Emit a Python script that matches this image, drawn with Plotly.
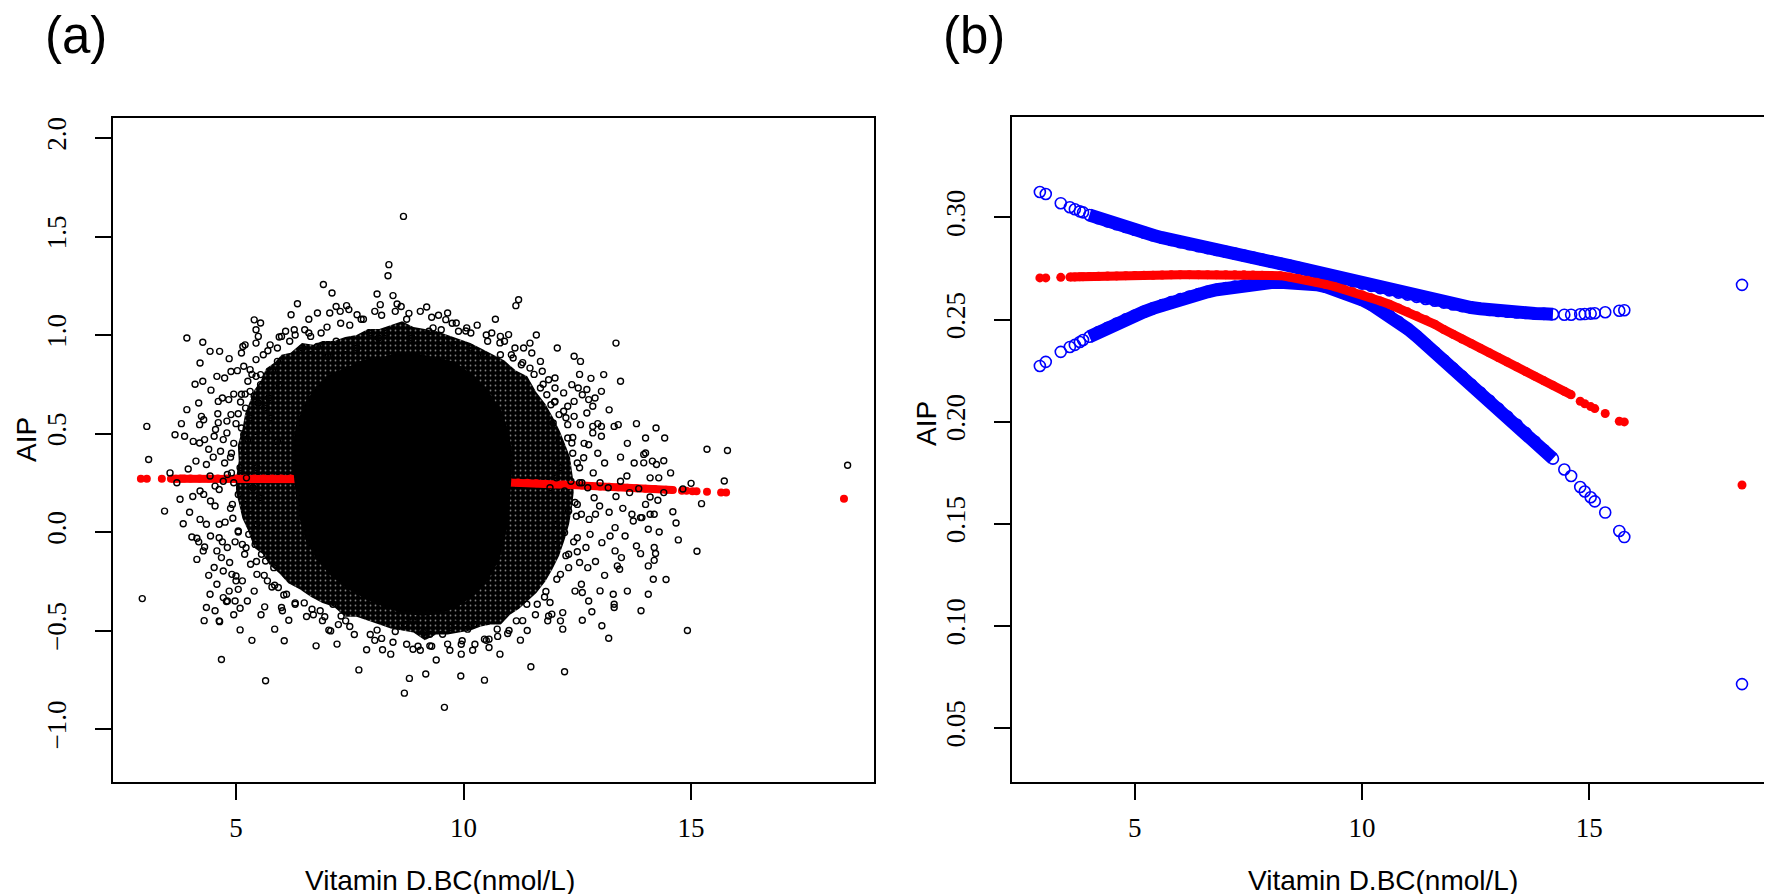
import plotly.graph_objects as go

# fitted curve (smooth fit of AIP on vitamin D)
fit_x = [2.91, 3.04, 3.37, 3.57, 3.68, 3.79, 3.86,
         4.0, 4.2, 4.4, 4.6, 4.8, 5.0, 5.2, 5.4, 5.6, 5.8, 6.0, 6.2, 6.4, 6.6, 6.8,
         7.0, 7.2, 7.4, 7.6, 7.8, 8.0, 8.2, 8.4, 8.6, 8.8, 9.0, 9.2, 9.4, 9.6, 9.8,
         10.0, 10.2, 10.4, 10.6, 10.8, 11.0, 11.2, 11.4, 11.6, 11.8, 12.0, 12.2, 12.4,
         12.6, 12.8, 13.0, 13.2, 13.4, 13.6, 13.8, 14.0, 14.2,
         14.45, 14.6, 14.8, 14.9, 15.03, 15.12, 15.35, 15.66, 15.77, 18.36]
fit_y = [0.2704, 0.2704, 0.2707, 0.2708, 0.2709, 0.2710, 0.2710,
         0.2711, 0.2712, 0.2713, 0.2714, 0.2715, 0.2716, 0.2717, 0.2717, 0.2718, 0.2719,
         0.2719, 0.2720, 0.2720, 0.2720, 0.2720, 0.2720, 0.2719, 0.2719, 0.2718, 0.2717,
         0.2716, 0.2715, 0.2708, 0.2701, 0.2692, 0.2683, 0.2672, 0.2661, 0.2649, 0.2636,
         0.2622, 0.2607, 0.2591, 0.2575, 0.2557, 0.2538, 0.2519, 0.2499, 0.2477, 0.2451,
         0.2428, 0.2405, 0.2383, 0.2360, 0.2337, 0.2314, 0.2292, 0.2269, 0.2246, 0.2223,
         0.2200, 0.2178,
         0.2149, 0.2132, 0.2100, 0.2088, 0.2074, 0.2064, 0.2040, 0.2002, 0.1999, 0.1690]
upper_y = [0.3125, 0.3115, 0.3070, 0.3050, 0.3040, 0.3030, 0.3025,
           0.3012, 0.2996, 0.2981, 0.2967, 0.2953, 0.2940, 0.2926, 0.2913, 0.2901, 0.2890,
           0.2879, 0.2869, 0.2859, 0.2850, 0.2841, 0.2832, 0.2823, 0.2814, 0.2804, 0.2794,
           0.2784, 0.2774, 0.2764, 0.2753, 0.2742, 0.2731, 0.2720, 0.2709, 0.2698, 0.2687,
           0.2676, 0.2665, 0.2654, 0.2643, 0.2632, 0.2622, 0.2611, 0.2601, 0.2592, 0.2583,
           0.2574, 0.2566, 0.2559, 0.2553, 0.2547, 0.2542, 0.2538, 0.2535, 0.2532, 0.2530,
           0.2528, 0.2526,
           0.2524, 0.2524, 0.2526, 0.2527, 0.2529, 0.2531, 0.2536, 0.2543, 0.2546, 0.2670]
lower_y = [0.2273, 0.2293, 0.2342, 0.2366, 0.2376, 0.2390, 0.2400,
           0.2416, 0.2439, 0.2460, 0.2481, 0.2501, 0.2520, 0.2538, 0.2555, 0.2571, 0.2586,
           0.2600, 0.2613, 0.2625, 0.2636, 0.2646, 0.2654, 0.2662, 0.2668, 0.2674, 0.2678,
           0.2681, 0.2683, 0.2683, 0.2682, 0.2678, 0.2671, 0.2661, 0.2649, 0.2634, 0.2617,
           0.2597, 0.2574, 0.2548, 0.2520, 0.2489, 0.2455, 0.2419, 0.2379, 0.2340, 0.2301,
           0.2261, 0.2222, 0.2182, 0.2143, 0.2104, 0.2064, 0.2025, 0.1986, 0.1945, 0.1903,
           0.1861, 0.1819,
           0.1766, 0.1734, 0.1680, 0.1658, 0.1630, 0.1610, 0.1555, 0.1465, 0.1435, 0.0715]

# raw scatter of panel (a): outline of the crowded zone where circles overlap almost fully
crowd_x = [5.00, 5.06, 5.04, 5.14, 5.20, 5.30, 5.40, 5.55, 5.66, 5.85, 6.00, 6.20, 6.45, 6.70,
           6.90, 7.15, 7.40, 7.65, 7.90, 8.15, 8.40, 8.65, 8.90, 9.15, 9.40, 9.65, 9.90, 10.15,
           10.40, 10.65, 10.90, 11.15, 11.40, 11.60, 11.80, 11.97, 12.12, 12.24, 12.34, 12.40,
           12.42, 12.38, 12.32, 12.22, 12.10, 11.95, 11.80, 11.60, 11.42, 11.22, 11.02, 10.82,
           10.60, 10.38, 10.15, 9.90, 9.65, 9.40, 9.15, 8.90, 8.65, 8.40, 8.15, 7.90, 7.65,
           7.40, 7.15, 6.90, 6.65, 6.40, 6.15, 5.95, 5.75, 5.58, 5.40, 5.26, 5.14, 5.06, 5.00]
crowd_y = [0.27, 0.36, 0.44, 0.52, 0.60, 0.66, 0.72, 0.77, 0.83, 0.86, 0.90, 0.91, 0.96, 0.95,
           0.97, 0.97, 0.99, 1.00, 1.03, 1.03, 1.05, 1.07, 1.04, 1.03, 1.02, 1.00, 0.98, 0.96,
           0.93, 0.90, 0.87, 0.82, 0.79, 0.71, 0.65, 0.58, 0.51, 0.44, 0.38, 0.28,
           0.20, 0.12, 0.04, -0.04, -0.12, -0.19, -0.25, -0.31, -0.35, -0.39, -0.42, -0.47,
           -0.47, -0.48, -0.50, -0.51, -0.52, -0.52, -0.55, -0.51, -0.50, -0.49, -0.47, -0.45, -0.43,
           -0.43, -0.38, -0.36, -0.33, -0.29, -0.26, -0.21, -0.17, -0.11, -0.08, 0.01, 0.07, 0.15, 0.20]
# solid black centre of the cloud
core_x = [6.30, 6.25, 6.35, 6.55, 6.80, 7.10, 7.45, 7.80, 8.20, 8.60, 9.00, 9.40, 9.80, 10.15,
          10.50, 10.80, 10.98, 11.06, 11.02, 10.98, 10.90, 10.78, 10.55, 10.25, 9.90, 9.50,
          9.10, 8.70, 8.30, 7.90, 7.50, 7.10, 6.80, 6.55, 6.38]
core_y = [0.27, 0.42, 0.55, 0.66, 0.74, 0.80, 0.83, 0.87, 0.88, 0.91, 0.90, 0.88, 0.86, 0.80,
          0.72, 0.62, 0.50, 0.38, 0.25, 0.10, -0.02, -0.13, -0.23, -0.31, -0.37, -0.41,
          -0.42, -0.41, -0.38, -0.34, -0.29, -0.22, -0.14, -0.04, 0.10]

# individual raw points (vitamin D, AIP)
top_pts = [
    (8.68, 1.602), (8.36, 1.357), (8.34, 1.301), (6.92, 1.256), (7.11, 1.213), (8.10, 1.208),
    (6.35, 1.159), (11.21, 1.179), (11.15, 1.149), (9.19, 1.142), (8.17, 1.154), (8.54, 1.157),
    (8.63, 1.145), (6.21, 1.103), (6.79, 1.112), (7.06, 1.112), (7.20, 1.145), (7.43, 1.149),
    (7.29, 1.120), (7.48, 1.129), (7.66, 1.103),
    (5.91, 0.934), (6.09, 1.019), (6.28, 1.027), (6.51, 1.027), (6.64, 0.993), (6.87, 1.010),
    (7.20, 0.968), (6.79, 0.942),
    (9.65, 1.112), (9.61, 1.078), (9.84, 1.061), (10.07, 1.036), (9.89, 1.019), (10.16, 1.010),
    (9.51, 1.027), (9.33, 1.036),
    (10.62, 1.010), (10.81, 0.993), (10.99, 1.002), (10.53, 0.968), (10.90, 0.968),
    (6.00, 0.993), (6.18, 0.968), (6.46, 0.934), (6.65, 0.900), (7.02, 0.892), (7.39, 0.900),
    (7.66, 0.934), (7.94, 1.010), (8.13, 0.985), (8.31, 1.010), (8.87, 0.985), (9.24, 1.019),
    (9.51, 0.968), (9.79, 0.951), (10.16, 0.934), (10.44, 0.900), (10.81, 0.900), (11.09, 0.883),
    (11.27, 0.849), (11.46, 0.832),
    (7.80, 1.08), (8.20, 1.10), (8.75, 1.08), (9.05, 1.12), (9.45, 1.10), (10.30, 1.05),
    (10.70, 1.08), (11.60, 1.00), (6.60, 1.08), (7.50, 1.05), (8.45, 1.20),
]
left_pts = [
    (5.40, 1.077), (5.54, 1.061), (5.44, 1.027), (5.49, 0.993), (5.44, 0.959), (5.44, 0.875),
    (3.92, 0.985), (4.27, 0.963), (4.43, 0.917), (4.64, 0.917), (4.21, 0.858), (4.27, 0.765),
    (4.58, 0.790), (4.75, 0.782), (4.89, 0.815), (5.03, 0.819), (5.15, 0.942), (5.12, 0.909),
    (3.92, 0.621), (4.18, 0.655), (4.24, 0.587), (4.29, 0.570), (4.20, 0.545),
    (3.04, 0.536), (3.66, 0.494), (3.87, 0.486), (4.06, 0.460), (4.20, 0.452), (4.31, 0.469),
    (4.52, 0.486),
    (4.61, 0.663), (4.70, 0.680), (4.84, 0.672), (4.61, 0.555), (4.80, 0.563), (4.89, 0.596),
    (4.72, 0.469), (4.80, 0.503),
    (5.17, 0.841), (5.31, 0.824), (5.44, 0.790), (5.54, 0.799), (5.54, 0.748), (5.26, 0.765),
    (5.12, 0.699), (5.31, 0.714), (5.40, 0.689), (5.49, 0.655), (5.21, 0.629), (5.31, 0.579),
    (5.12, 0.528), (5.17, 0.494), (5.26, 0.469), (5.44, 0.511),
    (5.91, 0.866), (5.81, 0.816), (5.95, 0.748), (5.72, 0.680), (5.63, 0.629), (5.77, 0.579),
    (5.68, 0.511), (5.91, 0.460),
    (3.08, 0.368), (2.94, -0.338), (3.43, 0.106), (3.77, 0.166), (3.84, 0.042),
    (4.03, -0.025), (4.14, -0.032), (4.31, -0.076), (4.28, -0.096), (4.14, -0.139),
    (4.58, -0.265), (4.43, -0.316), (4.35, -0.383), (4.54, -0.400), (4.63, -0.451),
    (4.64, -0.455), (4.79, -0.353), (4.81, -0.350), (4.72, -0.333),
    (4.68, -0.647), (5.09, -0.387), (5.09, -0.497), (5.05, -0.291), (5.14, -0.248), (5.00, -0.223),
    (5.65, -0.755), (5.63, -0.380), (5.85, -0.493), (6.06, -0.552), (6.02, -0.400), (6.00, -0.383),
    (6.16, -0.448), (6.30, -0.367), (6.11, -0.316), (5.93, -0.282), (5.79, -0.279),
    (4.35, 0.343), (4.43, 0.284), (4.29, 0.191), (4.21, 0.208), (4.54, 0.233), (4.63, 0.216),
    (4.72, 0.258), (4.81, 0.292), (4.44, 0.157), (4.54, 0.132), (4.35, 0.039), (4.21, 0.064),
    (4.63, 0.039), (4.44, -0.020), (4.63, -0.029), (4.58, -0.096), (4.68, -0.130), (4.81, -0.079),
    (4.86, -0.155), (4.72, -0.198), (4.91, -0.215), (5.00, -0.248),
    (5.19, 0.410), (5.32, 0.360), (5.46, 0.326), (5.23, 0.275), (5.37, 0.225), (5.51, 0.174),
    (5.19, 0.140), (5.32, 0.090), (5.46, 0.039), (5.28, -0.012), (5.42, -0.063), (5.56, -0.113),
    (5.19, -0.113), (5.32, -0.164), (5.46, -0.215), (5.69, -0.248), (5.83, -0.181), (5.65, -0.147),
    (5.09, 0.326), (5.05, 0.191), (5.05, 0.005), (5.14, -0.063),
    (3.55, 0.30), (3.70, 0.25), (3.95, 0.32), (4.05, 0.18), (4.12, 0.36), (3.98, 0.10),
    (4.18, -0.05), (4.40, 0.42), (4.50, 0.38), (4.66, 0.41), (4.75, 0.35), (4.90, 0.40),
    (4.95, 0.25), (4.88, 0.12), (4.76, 0.05), (4.98, -0.05), (4.93, 0.07), (4.70, -0.05),
    (4.52, -0.18), (4.40, -0.22), (4.85, -0.30), (4.98, -0.35), (4.60, 0.60), (4.45, 0.72),
    (4.95, 0.70), (5.00, 0.55), (4.85, 0.88), (4.55, 0.52), (3.80, 0.55), (4.10, 0.75),
    (4.30, -0.45), (4.95, -0.42), (5.25, -0.35), (5.40, -0.30), (5.55, -0.42), (5.35, -0.55),
    (5.20, 0.95), (5.60, 0.90), (5.75, 0.95),
]
bottom_pts = [
    (6.76, -0.578), (7.22, -0.569), (7.08, -0.502), (7.04, -0.498), (6.55, -0.429), (6.67, -0.392),
    (6.85, -0.400), (7.13, -0.367), (7.41, -0.451), (7.31, -0.426),
    (7.87, -0.598), (8.22, -0.598), (8.10, -0.498), (8.50, -0.505), (8.70, -0.468), (8.89, -0.451),
    (8.70, -0.818), (8.81, -0.743), (9.17, -0.721), (9.58, -0.890), (9.94, -0.731), (10.46, -0.752),
    (9.95, -0.620), (9.97, -0.552), (9.26, -0.578), (8.89, -0.595), (9.65, -0.569), (9.26, -0.519),
    (9.12, -0.510), (9.54, -0.519), (9.72, -0.485), (9.81, -0.468), (10.09, -0.493), (10.23, -0.468),
    (10.56, -0.586), (10.56, -0.544), (10.46, -0.544), (10.74, -0.493), (10.97, -0.515),
    (11.25, -0.549), (11.48, -0.684), (12.22, -0.709),
    (7.60, -0.52), (8.05, -0.55), (8.40, -0.62), (9.05, -0.60), (9.40, -0.65), (10.20, -0.60),
    (10.80, -0.62), (11.40, -0.50), (6.90, -0.45), (7.70, -0.70),
]
right_pts = [
    (11.73, 0.816), (11.87, 0.773), (11.69, 0.731), (11.83, 0.697), (12.01, 0.782), (12.01, 0.731),
    (12.20, 0.706), (12.38, 0.748), (12.52, 0.731), (12.71, 0.723), (12.01, 0.663), (12.29, 0.638),
    (12.43, 0.663), (12.75, 0.672), (12.89, 0.680), (13.03, 0.714), (12.61, 0.697), (12.84, 0.638),
    (12.71, 0.604), (12.43, 0.587), (12.20, 0.613), (11.92, 0.646), (12.10, 0.596), (11.97, 0.553),
    (12.29, 0.545), (12.57, 0.545),
    (12.84, 0.536), (13.03, 0.536), (13.31, 0.536), (13.40, 0.545), (12.84, 0.503), (13.03, 0.486),
    (12.75, 0.443), (12.38, 0.452), (12.10, 0.460), (12.29, 0.477),
    (14.00, 0.477), (14.23, 0.528), (14.00, 0.401), (14.42, 0.477),
    (11.46, 0.959), (11.13, 0.934), (11.32, 0.934), (11.50, 0.909), (11.69, 0.866), (12.06, 0.934),
    (12.43, 0.892), (12.57, 0.866), (13.35, 0.959), (13.45, 0.765), (13.08, 0.799),
    (11.85, -0.451), (11.87, -0.426), (11.94, -0.417), (12.18, -0.409), (12.13, -0.451),
    (12.18, -0.493), (12.61, -0.448), (12.82, -0.405), (13.04, -0.476), (13.19, -0.539),
    (13.31, -0.383), (13.31, -0.367), (13.00, -0.299), (13.29, -0.316), (12.59, -0.265),
    (12.61, -0.307), (11.81, -0.302), (11.90, -0.358), (11.62, -0.367), (11.39, -0.367),
    (11.16, -0.451), (10.93, -0.400),
    (13.70, 0.090), (13.73, 0.056), (13.89, 0.073), (13.92, 0.073), (14.06, 0.014), (14.00, 0.140),
    (14.10, 0.090), (14.19, 0.090), (13.80, -0.071), (13.89, -0.110), (14.06, -0.172),
    (14.19, -0.079), (14.19, -0.144), (14.17, -0.240), (14.06, -0.316), (13.47, -0.130),
    (13.33, -0.096), (13.38, -0.172), (13.43, -0.189), (13.04, -0.054), (13.22, -0.020),
    (13.33, 0.022), (12.90, 0.090), (12.76, 0.064), (12.99, 0.132), (13.18, 0.225), (13.45, 0.258),
    (13.59, 0.284), (13.96, 0.394), (14.15, 0.360), (13.96, 0.351), (14.10, 0.275), (14.29, 0.275),
    (14.24, 0.343),
    (11.94, 0.360), (12.13, 0.326), (12.04, 0.275), (11.90, 0.225), (12.22, 0.208), (12.36, 0.258),
    (12.55, 0.326), (12.64, 0.377), (12.73, 0.225), (12.87, 0.174), (12.50, 0.140), (12.31, 0.106),
    (12.59, 0.090), (12.04, 0.039), (12.22, -0.003), (12.50, -0.029), (12.78, -0.012),
    (12.04, -0.063), (12.31, -0.113), (12.69, -0.079), (12.55, -0.155), (12.73, -0.181),
    (12.13, -0.215), (12.31, -0.181),
    (14.40, 0.362), (14.10, 0.178), (14.27, 0.161), (14.60, 0.103), (14.82, 0.218), (15.00, 0.247),
    (15.23, 0.144), (15.35, 0.420), (15.80, 0.414), (15.73, 0.259), (15.13, -0.098),
    (14.92, -0.500), (14.45, -0.241), (14.22, -0.109), (14.72, -0.040), (14.67, 0.046),
    (18.44, 0.339),
    (12.45, 0.15), (12.60, 0.25), (12.85, 0.30), (12.95, 0.40), (13.10, 0.35), (13.20, 0.10),
    (13.35, 0.18), (13.50, 0.12), (13.55, -0.02), (13.65, 0.20), (13.75, 0.35), (13.85, 0.22),
    (12.90, -0.15), (13.10, -0.22), (12.45, -0.30), (12.75, -0.35), (12.95, 0.55), (13.20, 0.62),
    (12.55, 0.80), (12.80, 0.78), (13.60, 0.45), (13.80, 0.55), (12.40, 0.40), (12.50, -0.10),
    (12.65, 0.45), (13.00, 0.25), (13.45, 0.38), (14.30, 0.00), (14.40, 0.20), (14.55, 0.30),
    (13.60, -0.30), (13.90, -0.40),
]
# circles straddling the rim of the crowded zone
rim_pts = [
    (4.90, 0.30), (4.95, 0.45), (5.05, 0.60), (5.20, 0.70), (5.35, 0.80), (4.92, 0.14),
    (5.05, 0.00), (5.22, -0.08), (5.45, -0.15), (5.62, -0.22), (5.85, -0.27), (6.05, -0.32),
    (6.30, -0.36), (4.88, 0.38), (5.10, 0.66),
    (5.70, 0.92), (5.95, 0.99), (6.30, 1.00), (6.60, 1.01), (7.00, 1.04), (7.30, 1.06),
    (7.75, 1.08), (8.05, 1.12), (8.50, 1.12), (8.80, 1.11), (9.30, 1.09), (9.75, 1.06),
    (10.05, 1.02), (10.50, 1.00), (10.80, 0.96), (11.05, 0.90), (11.30, 0.86),
    (11.55, 0.80), (11.75, 0.75), (12.00, 0.66), (12.25, 0.58), (12.40, 0.48), (12.50, 0.35),
    (12.55, 0.25), (12.48, 0.08), (12.42, -0.05), (12.25, -0.12), (12.05, -0.24), (11.78, -0.33),
    (11.58, -0.42),
    (11.30, -0.45), (11.00, -0.50), (10.75, -0.53), (10.50, -0.55), (10.25, -0.57), (9.95, -0.57),
    (9.70, -0.60), (9.30, -0.58), (9.00, -0.58), (8.75, -0.57), (8.45, -0.56), (8.20, -0.54),
    (7.95, -0.52), (7.50, -0.48), (7.25, -0.47), (6.95, -0.43), (6.70, -0.42), (6.50, -0.36),
]

raw_pts = top_pts + left_pts + bottom_pts + right_pts + rim_pts
raw_x = [p[0] for p in raw_pts]
raw_y = [p[1] for p in raw_pts]

RED = "#FF0000"
BLUE = "#0000FF"
SANS = "Liberation Sans, Arial, sans-serif"
SERIF = "Liberation Serif, Times New Roman, serif"

# the dense middle of each fitted series is drawn as a thick line so it reads as a solid band
red_dense = [i for i, x in enumerate(fit_x) if 3.5 <= x <= 14.65]
blue_dense = [i for i, x in enumerate(fit_x) if 3.95 <= x <= 14.3]

fig = go.Figure()

# ---- panel (a)
fig.add_trace(go.Scatter(
    x=crowd_x + [crowd_x[0]], y=crowd_y + [crowd_y[0]], mode="lines",
    fill="toself", fillcolor="black",
    fillpattern=dict(shape=".", bgcolor="black", fgcolor="white", size=5, solidity=0.1),
    line=dict(color="black", width=0), xaxis="x", yaxis="y", hoverinfo="skip",
))
fig.add_trace(go.Scatter(
    x=[fit_x[i] for i in red_dense], y=[fit_y[i] for i in red_dense],
    mode="lines", line=dict(color=RED, width=8), xaxis="x", yaxis="y", hoverinfo="skip",
))
fig.add_trace(go.Scatter(
    x=fit_x, y=fit_y, mode="markers",
    marker=dict(symbol="circle", size=8, color=RED, line=dict(width=0)),
    xaxis="x", yaxis="y",
))
fig.add_trace(go.Scatter(
    x=core_x + [core_x[0]], y=core_y + [core_y[0]], mode="lines",
    fill="toself", fillcolor="black", line=dict(color="black", width=2),
    xaxis="x", yaxis="y", hoverinfo="skip",
))
fig.add_trace(go.Scatter(
    x=raw_x, y=raw_y, mode="markers",
    marker=dict(symbol="circle-open", size=6, color="black", line=dict(width=1.4, color="black")),
    xaxis="x", yaxis="y",
))

# ---- panel (b)
for ys in (upper_y, lower_y):
    fig.add_trace(go.Scatter(
        x=[fit_x[i] for i in blue_dense], y=[ys[i] for i in blue_dense],
        mode="lines", line=dict(color=BLUE, width=13), xaxis="x2", yaxis="y2", hoverinfo="skip",
    ))
    fig.add_trace(go.Scatter(
        x=fit_x, y=ys, mode="markers",
        marker=dict(symbol="circle-open", size=11, color=BLUE, line=dict(width=1.6, color=BLUE)),
        xaxis="x2", yaxis="y2",
    ))
fig.add_trace(go.Scatter(
    x=[fit_x[i] for i in red_dense], y=[fit_y[i] for i in red_dense],
    mode="lines", line=dict(color=RED, width=9), xaxis="x2", yaxis="y2", hoverinfo="skip",
))
fig.add_trace(go.Scatter(
    x=fit_x, y=fit_y, mode="markers",
    marker=dict(symbol="circle", size=9, color=RED, line=dict(width=0)),
    xaxis="x2", yaxis="y2",
))

axis_style = dict(
    showline=True, linecolor="black", linewidth=1.8, mirror=True,
    ticks="outside", ticklen=16, tickwidth=1.8, tickcolor="black",
    showgrid=False, zeroline=False,
    tickfont=dict(family=SERIF, size=27, color="black"),
)
x_style = dict(axis_style, ticklabelstandoff=5)
y_style = dict(axis_style, ticklabelstandoff=18)

fig.update_layout(
    width=1772, height=894,
    margin=dict(l=0, r=0, t=0, b=0),
    paper_bgcolor="white", plot_bgcolor="white",
    showlegend=False,
    xaxis=dict(domain=[105 / 1772, 866 / 1772], range=[2.297, 19.02],
               tickvals=[5, 10, 15], anchor="y", **x_style),
    yaxis=dict(domain=[1 - 774 / 894, 1 - 110 / 894], range=[-1.269, 2.1015],
               tickvals=[-1.0, -0.5, 0.0, 0.5, 1.0, 1.5, 2.0], tickformat=".1f",
               tickangle=-90, anchor="x", **y_style),
    xaxis2=dict(domain=[1004 / 1772, 1764 / 1772], range=[2.297, 19.02],
                tickvals=[5, 10, 15], anchor="y2", **x_style),
    yaxis2=dict(domain=[1 - 774 / 894, 1 - 109 / 894], range=[0.02356, 0.3492],
                tickvals=[0.05, 0.10, 0.15, 0.20, 0.25, 0.30], tickformat=".2f",
                tickangle=-90, anchor="x2", **y_style),
)

labels = [
    ("(a)", 68, 27, 51, 0), ("(b)", 966, 27, 51, 0),
    ("AIP", 18, 432, 28, -90), ("AIP", 918, 415, 28, -90),
    ("Vitamin D.BC(nmol/L)", 432, 872, 28, 0), ("Vitamin D.BC(nmol/L)", 1375, 872, 28, 0),
]
for text, px, py, size, angle in labels:
    fig.add_annotation(
        text=text, x=px / 1772, y=1 - py / 894, xref="paper", yref="paper",
        xanchor="center", yanchor="middle", showarrow=False, textangle=angle,
        font=dict(family=SANS, size=size, color="black"),
    )

fig.write_html("out.html")
